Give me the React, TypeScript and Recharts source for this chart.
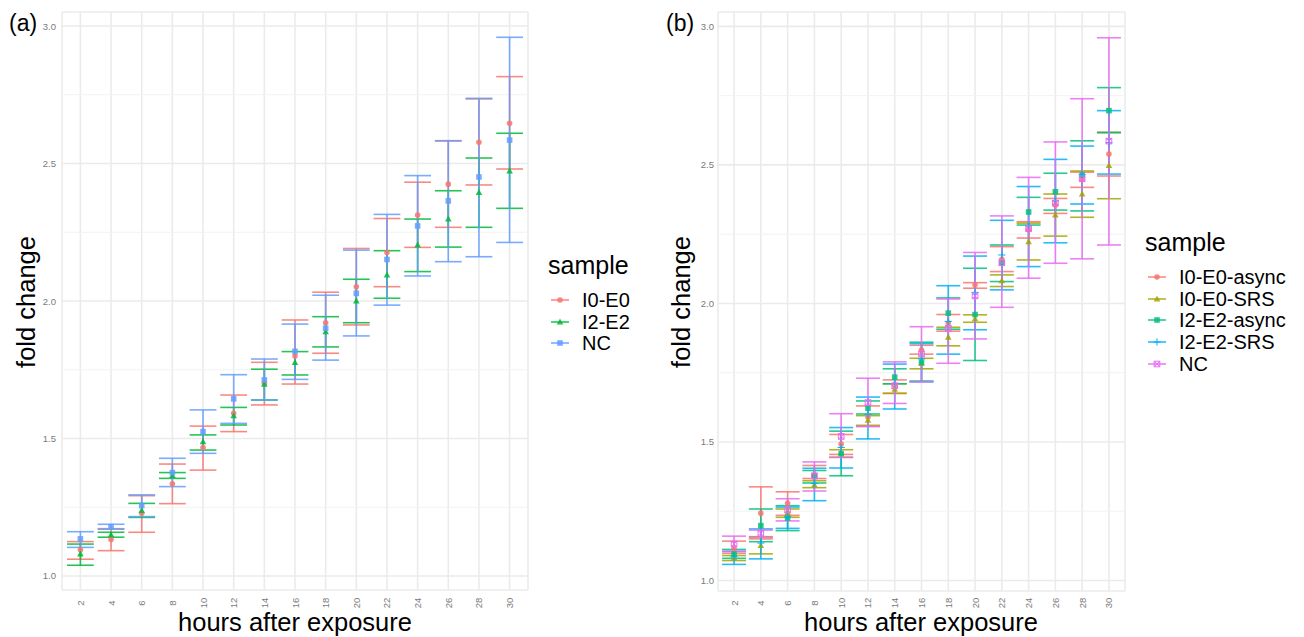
import React from 'react';
import {
  CartesianGrid,
  ComposedChart,
  ErrorBar,
  ReferenceLine,
  Scatter,
  XAxis,
  YAxis,
} from 'recharts';

const hours = [2, 4, 6, 8, 10, 12, 14, 16, 18, 20, 22, 24, 26, 28, 30];
const yTicks = [1.0, 1.5, 2.0, 2.5, 3.0];
const yMinor = [1.25, 1.75, 2.25, 2.75];

// panel (a)
const aI0E0Mean = [1.095, 1.133, 1.228, 1.335, 1.467, 1.592, 1.701, 1.8, 1.921, 2.052, 2.176, 2.313, 2.425, 2.577, 2.646];
const aI0E0Low = [1.061, 1.092, 1.159, 1.263, 1.385, 1.525, 1.622, 1.698, 1.81, 1.913, 2.052, 2.195, 2.268, 2.422, 2.48];
const aI0E0High = [1.125, 1.172, 1.292, 1.407, 1.545, 1.658, 1.777, 1.931, 2.032, 2.191, 2.3, 2.432, 2.582, 2.735, 2.816];

const aI2E2Mean = [1.08, 1.15, 1.238, 1.365, 1.488, 1.583, 1.697, 1.776, 1.888, 2.0, 2.095, 2.204, 2.298, 2.395, 2.473];
const aI2E2Low = [1.039, 1.141, 1.213, 1.355, 1.458, 1.549, 1.64, 1.731, 1.833, 1.921, 2.01, 2.107, 2.196, 2.268, 2.337];
const aI2E2High = [1.116, 1.159, 1.264, 1.376, 1.513, 1.613, 1.752, 1.816, 1.943, 2.079, 2.183, 2.298, 2.401, 2.52, 2.61];

const aNCMean = [1.135, 1.179, 1.256, 1.376, 1.525, 1.644, 1.713, 1.817, 1.901, 2.028, 2.151, 2.273, 2.364, 2.451, 2.585];
const aNCLow = [1.104, 1.17, 1.216, 1.325, 1.446, 1.555, 1.64, 1.715, 1.785, 1.873, 1.985, 2.091, 2.143, 2.161, 2.213];
const aNCHigh = [1.161, 1.188, 1.295, 1.428, 1.604, 1.732, 1.789, 1.916, 2.021, 2.185, 2.315, 2.456, 2.583, 2.737, 2.959];

// panel (b)
const bI0E0AsyncMean = [1.115, 1.243, 1.279, 1.38, 1.492, 1.59, 1.705, 1.832, 1.929, 2.067, 2.159, 2.267, 2.355, 2.448, 2.539];
const bI0E0AsyncLow = [1.098, 1.15, 1.235, 1.368, 1.455, 1.556, 1.676, 1.817, 1.9, 2.055, 2.115, 2.236, 2.325, 2.419, 2.46];
const bI0E0AsyncHigh = [1.142, 1.338, 1.32, 1.415, 1.527, 1.63, 1.724, 1.849, 1.96, 2.075, 2.205, 2.295, 2.379, 2.474, 2.617];

const bI0E0SrsMean = [1.082, 1.126, 1.245, 1.345, 1.46, 1.578, 1.69, 1.783, 1.878, 1.945, 2.082, 2.223, 2.319, 2.395, 2.498];
const bI0E0SrsLow = [1.072, 1.096, 1.228, 1.335, 1.445, 1.56, 1.675, 1.764, 1.847, 1.932, 2.061, 2.157, 2.243, 2.311, 2.378];
const bI0E0SrsHigh = [1.09, 1.158, 1.258, 1.36, 1.472, 1.595, 1.71, 1.802, 1.914, 1.959, 2.103, 2.29, 2.395, 2.478, 2.617];

const bI2E2AsyncMean = [1.095, 1.198, 1.225, 1.375, 1.458, 1.622, 1.734, 1.788, 1.965, 1.96, 2.145, 2.33, 2.403, 2.463, 2.696];
const bI2E2AsyncLow = [1.08, 1.14, 1.18, 1.352, 1.378, 1.601, 1.71, 1.72, 1.907, 1.794, 2.079, 2.283, 2.337, 2.334, 2.617];
const bI2E2AsyncHigh = [1.112, 1.258, 1.27, 1.397, 1.539, 1.648, 1.764, 1.86, 2.02, 2.127, 2.211, 2.383, 2.47, 2.587, 2.779];

const bI2E2SrsMean = [1.085, 1.135, 1.23, 1.35, 1.48, 1.6, 1.71, 1.8, 1.935, 2.04, 2.175, 2.28, 2.37, 2.465, 2.58];
const bI2E2SrsLow = [1.058, 1.078, 1.188, 1.288, 1.406, 1.511, 1.619, 1.717, 1.817, 1.905, 2.049, 2.133, 2.219, 2.359, 2.467];
const bI2E2SrsHigh = [1.105, 1.186, 1.265, 1.405, 1.552, 1.662, 1.781, 1.855, 2.064, 2.171, 2.3, 2.422, 2.52, 2.568, 2.696];

const bNCMean = [1.132, 1.17, 1.255, 1.378, 1.52, 1.642, 1.703, 1.818, 1.91, 2.027, 2.147, 2.27, 2.362, 2.45, 2.586];
const bNCLow = [1.105, 1.155, 1.215, 1.323, 1.444, 1.556, 1.639, 1.717, 1.784, 1.872, 1.986, 2.091, 2.145, 2.161, 2.211];
const bNCHigh = [1.16, 1.182, 1.295, 1.428, 1.602, 1.73, 1.789, 1.916, 2.016, 2.184, 2.316, 2.455, 2.583, 2.739, 2.959];

type Kind = 'circle' | 'triangle' | 'square' | 'plus' | 'boxcross';

function toRows(mean: number[], low: number[], high: number[]) {
  return hours.map((h, i) => ({
    hour: h,
    fc: mean[i],
    err: [mean[i] - low[i], high[i] - mean[i]],
  }));
}

const seriesA = [
  { name: 'I0-E0', color: '#F8766D', kind: 'circle' as Kind, rows: toRows(aI0E0Mean, aI0E0Low, aI0E0High) },
  { name: 'I2-E2', color: '#00BA38', kind: 'triangle' as Kind, rows: toRows(aI2E2Mean, aI2E2Low, aI2E2High) },
  { name: 'NC', color: '#619CFF', kind: 'square' as Kind, rows: toRows(aNCMean, aNCLow, aNCHigh) },
];

const seriesB = [
  { name: 'I0-E0-async', color: '#F8766D', kind: 'circle' as Kind, rows: toRows(bI0E0AsyncMean, bI0E0AsyncLow, bI0E0AsyncHigh) },
  { name: 'I0-E0-SRS', color: '#A3A500', kind: 'triangle' as Kind, rows: toRows(bI0E0SrsMean, bI0E0SrsLow, bI0E0SrsHigh) },
  { name: 'I2-E2-async', color: '#00BF7D', kind: 'square' as Kind, rows: toRows(bI2E2AsyncMean, bI2E2AsyncLow, bI2E2AsyncHigh) },
  { name: 'I2-E2-SRS', color: '#00B0F6', kind: 'plus' as Kind, rows: toRows(bI2E2SrsMean, bI2E2SrsLow, bI2E2SrsHigh) },
  { name: 'NC', color: '#E76BF3', kind: 'boxcross' as Kind, rows: toRows(bNCMean, bNCLow, bNCHigh) },
];

function drawMarker(kind: Kind, color: string, cx: number, cy: number) {
  const s = 2.8;
  switch (kind) {
    case 'circle':
      return <circle cx={cx} cy={cy} r={2.8} fill={color} fillOpacity={0.85} />;
    case 'triangle':
      return (
        <polygon
          points={`${cx},${cy - 3.5} ${cx - 3.3},${cy + 2.5} ${cx + 3.3},${cy + 2.5}`}
          fill={color}
          fillOpacity={0.85}
        />
      );
    case 'square':
      return <rect x={cx - s} y={cy - s} width={2 * s} height={2 * s} fill={color} fillOpacity={0.85} />;
    case 'plus':
      return (
        <g stroke={color} strokeWidth={1}>
          <line x1={cx - 3.6} y1={cy} x2={cx + 3.6} y2={cy} />
          <line x1={cx} y1={cy - 3.6} x2={cx} y2={cy + 3.6} />
        </g>
      );
    default:
      return (
        <g stroke={color} strokeWidth={1} fill="none">
          <rect x={cx - s} y={cy - s} width={2 * s} height={2 * s} />
          <line x1={cx - s} y1={cy - s} x2={cx + s} y2={cy + s} />
          <line x1={cx - s} y1={cy + s} x2={cx + s} y2={cy - s} />
        </g>
      );
  }
}

const XTick = (props: any) => {
  const { x, payload } = props;
  const y = 603;
  return (
    <text
      x={x}
      y={y}
      transform={`rotate(-90, ${x}, ${y})`}
      textAnchor="middle"
      dominantBaseline="central"
      fontSize={9.5}
      fill="#7a7a7a"
    >
      {payload.value}
    </text>
  );
};

const makeYTick = (right: number) => (props: any) => {
  const { y, payload } = props;
  return (
    <text x={right} y={y} textAnchor="end" dominantBaseline="central" fontSize={9.5} fill="#7a7a7a">
      {Number(payload.value).toFixed(1)}
    </text>
  );
};

function Panel({
  series,
  width,
  marginRight,
  domain,
  xAxisHeight,
  capHalf,
  tickRight,
}: {
  series: typeof seriesA;
  width: number;
  marginRight: number;
  domain: [number, number];
  xAxisHeight: number;
  capHalf: number;
  tickRight: number;
}) {
  return (
    <ComposedChart width={width} height={637} margin={{ top: 12, right: marginRight, bottom: 0, left: 0 }}>
      <CartesianGrid stroke="#ebebeb" strokeWidth={1.6} />
      {yMinor.map((v) => (
        <ReferenceLine key={v} y={v} stroke="#f2f2f2" strokeWidth={1} />
      ))}
      <XAxis
        dataKey="hour"
        type="number"
        domain={[0.8, 31.2]}
        ticks={hours}
        allowDataOverflow
        axisLine={false}
        tickLine={false}
        height={xAxisHeight}
        tick={<XTick />}
        interval={0}
      />
      <YAxis
        type="number"
        domain={domain}
        ticks={yTicks}
        allowDataOverflow
        axisLine={false}
        tickLine={false}
        width={62}
        tick={makeYTick(tickRight)}
      />
      {series.map((s) => (
        <Scatter
          key={`e-${s.name}`}
          data={s.rows}
          dataKey="fc"
          isAnimationActive={false}
          shape={() => <g />}
        >
          <ErrorBar
            dataKey="err"
            direction="y"
            width={capHalf}
            stroke={s.color}
            strokeOpacity={0.85}
            strokeWidth={1.6}
            isAnimationActive={false}
          />
        </Scatter>
      ))}
      {series.map((s) => (
        <Scatter
          key={`p-${s.name}`}
          data={s.rows}
          dataKey="fc"
          isAnimationActive={false}
          shape={(p: any) => drawMarker(s.kind, s.color, p.cx, p.cy)}
        />
      ))}
    </ComposedChart>
  );
}

function Legend({ series, left, top }: { series: typeof seriesA; left: number; top: number }) {
  return (
    <div style={{ position: 'absolute', left, top }}>
      <div style={{ fontSize: 25, lineHeight: '30px', height: 30 }}>sample</div>
      <div style={{ marginTop: 9 }}>
        {series.map((s) => (
          <div key={s.name} style={{ display: 'flex', alignItems: 'center', height: 21.8 }}>
            <svg width={24} height={20} style={{ marginRight: 10 }}>
              <line x1={3} y1={10} x2={21} y2={10} stroke={s.color} strokeOpacity={0.85} strokeWidth={1.6} />
              {drawMarker(s.kind, s.color, 12, 10)}
            </svg>
            <span style={{ fontSize: 20, lineHeight: '20px' }}>{s.name}</span>
          </div>
        ))}
      </div>
    </div>
  );
}

const titleStyle: React.CSSProperties = { position: 'absolute', fontSize: 25.5, color: '#000', whiteSpace: 'nowrap' };

export default function App() {
  return (
    <div
      style={{
        position: 'absolute',
        left: 0,
        top: 0,
        width: 1304,
        height: 637,
        background: '#fff',
        fontFamily: '"Liberation Sans", Arial, sans-serif',
        overflow: 'hidden',
      }}
    >
      <div style={{ position: 'absolute', left: 0, top: 0 }}>
        <Panel
          series={seriesA}
          width={560}
          marginRight={32}
          domain={[0.949, 3.051]}
          xAxisHeight={47}
          capHalf={13.4}
          tickRight={56}
        />
      </div>
      <div style={{ position: 'absolute', left: 656, top: 0 }}>
        <Panel
          series={seriesB}
          width={500}
          marginRight={31}
          domain={[0.962, 3.052]}
          xAxisHeight={46}
          capHalf={12}
          tickRight={58}
        />
      </div>

      <div style={{ ...titleStyle, left: 9, top: 10, fontSize: 23 }}>(a)</div>
      <div style={{ ...titleStyle, left: 666, top: 10, fontSize: 23 }}>(b)</div>

      <div style={{ ...titleStyle, left: 26, top: 302, transform: 'translate(-50%, -50%) rotate(-90deg)' }}>
        fold change
      </div>
      <div style={{ ...titleStyle, left: 681, top: 302, transform: 'translate(-50%, -50%) rotate(-90deg)' }}>
        fold change
      </div>
      <div style={{ ...titleStyle, left: 295, top: 622, transform: 'translate(-50%, -50%)' }}>
        hours after exposure
      </div>
      <div style={{ ...titleStyle, left: 921, top: 622, transform: 'translate(-50%, -50%)' }}>
        hours after exposure
      </div>

      <Legend series={seriesA} left={548} top={250} />
      <Legend series={seriesB} left={1145} top={227} />
    </div>
  );
}
